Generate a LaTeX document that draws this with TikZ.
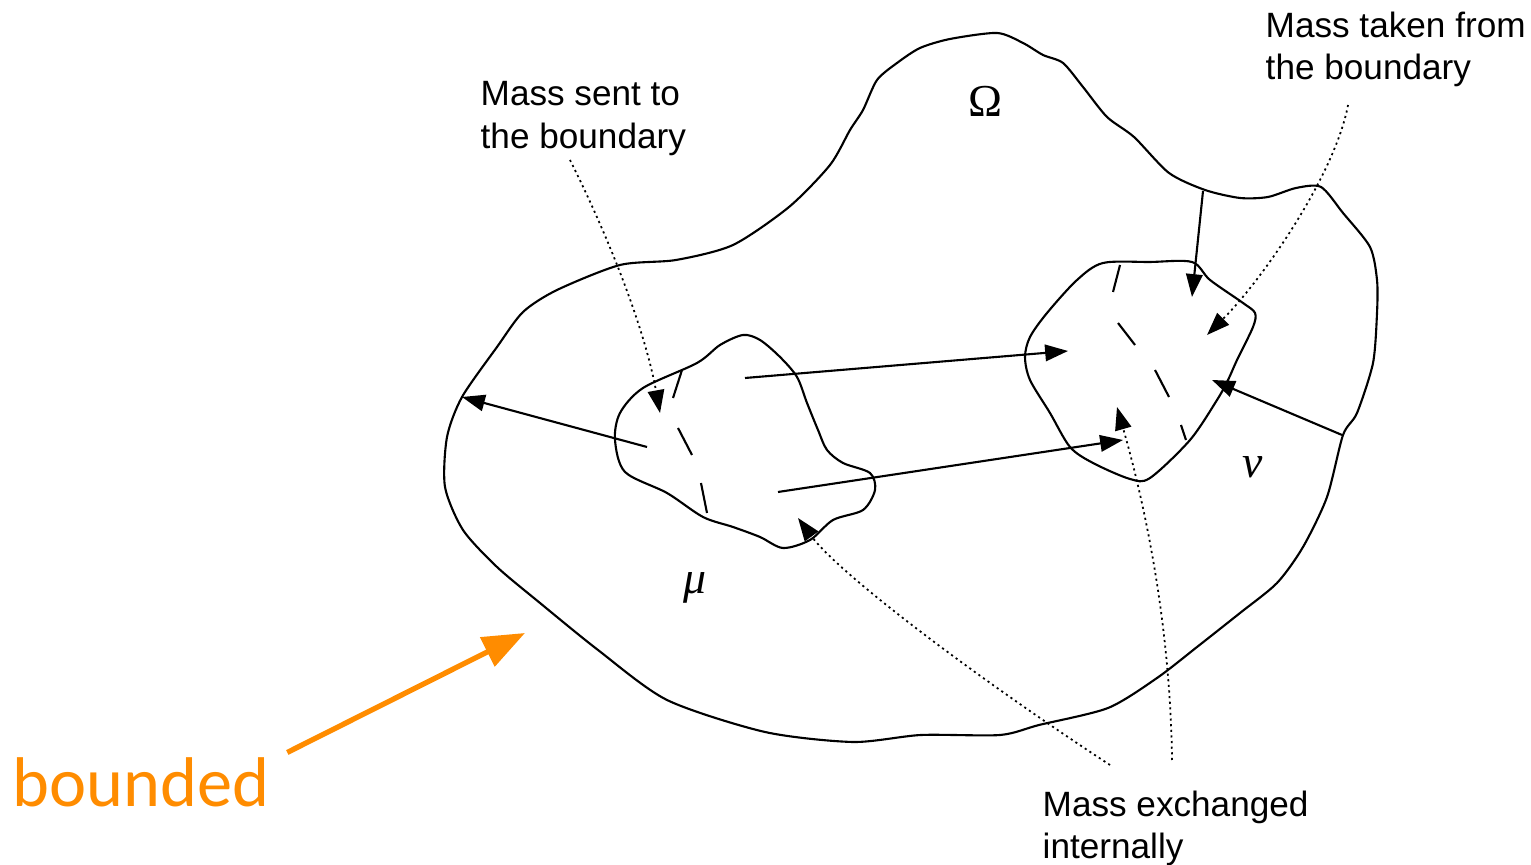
\documentclass[tikz,border=0pt]{standalone}
\usepackage{fontspec}
\setmainfont{Liberation Sans}
\newfontfamily\symfont{Liberation Serif}
\newfontfamily\notefont{Carlito}
\usetikzlibrary{arrows.meta}
\definecolor{notecolor}{RGB}{255,140,0}

\begin{document}
\begin{tikzpicture}[x=0.01cm,y=-0.01cm,
  region/.style={line width=0.6pt},
  flow/.style={line width=0.6pt,-{Triangle[length=6.5pt,width=4.7pt]}},
  pointer/.style={line width=0.5pt,dash pattern=on 0.6pt off 1pt,-{Triangle[length=6.5pt,width=4.7pt]}},
  stroke/.style={line width=0.6pt},
  caption/.style={font=\fontsize{10}{12}\selectfont,align=left,anchor=north west,inner sep=0pt},
  measure/.style={font=\symfont\fontsize{13}{13}\selectfont,inner sep=0pt}]
  \useasboundingbox (0,0) rectangle (1531,865);
  % the domain
  \draw[region] plot[smooth cycle,tension=0.45] coordinates {
    (462,397) (497,347) (523,312) (557,290) (620,265) (676,260) (733,245)
    (789,207) (830,165) (850,130) (863,110) (877,80) (897,63) (920,48)
    (950,39) (997,33) (1023,43) (1043,55) (1063,63) (1083,87) (1107,117)
    (1134,137) (1169,173) (1205,190) (1240,198) (1268,197) (1296,188)
    (1321,187) (1343,213) (1370,247) (1377,280) (1377,313) (1373,363)
    (1357,413) (1343,435) (1327,497) (1303,547) (1277,583) (1240,613)
    (1197,647) (1157,678) (1108,708) (1039,725) (1000,735) (921,735)
    (853,742) (765,732) (667,700) (598,650) (540,603) (497,567)
    (463,530) (445,487) (447,437)};
  % support of mu
  \draw[region] plot[smooth cycle,tension=0.5] coordinates {
    (743,335) (760,340) (780,357) (797,377) (807,403) (818,430) (827,450)
    (843,463) (870,473) (875,490) (863,510) (833,520) (810,540) (783,548)
    (760,537) (733,527) (703,517) (667,493) (625,472) (615,440) (620,413)
    (643,388) (697,363) (720,345)};
  % support of nu
  \draw[region] plot[smooth cycle,tension=0.5] coordinates {
    (1103,263) (1150,262) (1192,262) (1210,280) (1243,303) (1255,313)
    (1253,327) (1237,360) (1228,380) (1217,400) (1190,440) (1150,478)
    (1130,479) (1093,463) (1070,447) (1050,413) (1030,380) (1025,357)
    (1030,337) (1047,313) (1077,280)};
  % short strokes inside the supports
  \draw[stroke] (682,370) -- (673,398);
  \draw[stroke] (678,428) -- (692,455);
  \draw[stroke] (701,483) -- (707,513);
  \draw[stroke] (1120,265) -- (1113,292);
  \draw[stroke] (1118,323) -- (1135,345);
  \draw[stroke] (1155,370) -- (1169,397);
  \draw[stroke] (1181,425) -- (1186,440);

  \coordinate (muL) at (647,447);
  \coordinate (wallL) at (462,397);
  \coordinate (muT) at (745,378);
  \coordinate (nuT) at (1068,351);
  \coordinate (muB) at (778,492);
  \coordinate (nuB) at (1123,440);
  \coordinate (wallT) at (1203,191);
  \coordinate (nuN) at (1192,297);
  \coordinate (wallR) at (1342,435);
  \coordinate (nuE) at (1212,380);
  \draw[flow] (muL) -- (wallL);
  \draw[flow] (muT) -- (nuT);
  \draw[flow] (muB) -- (nuB);
  \draw[flow] (wallT) -- (nuN);
  \draw[flow] (wallR) -- (nuE);

  \node[measure] (omegalbl) at (985,101) {Ω};
  \node[measure,font=\symfont\itshape\fontsize{13}{13}\selectfont] (mulbl) at (695,588) {μ};
  \node[measure,font=\symfont\itshape\fontsize{13}{13}\selectfont] (nulbl) at (1253,467) {ν};

  \node[caption] (sentlbl) at (480,81) {Mass sent to\\the boundary};
  \node[caption] (takenlbl) at (1265,11) {Mass taken from\\the boundary};
  \node[caption] (exchlbl) at (1042,790) {Mass exchanged\\internally};

  \coordinate (sentS) at (570,160);
  \coordinate (sentE) at (660,413);
  \coordinate (takenS) at (1348,105);
  \coordinate (takenE) at (1207,335);
  \coordinate (exchA) at (1110,765);
  \coordinate (exchAE) at (798,518);
  \coordinate (exchB) at (1172,760);
  \coordinate (exchBE) at (1117,407);
  \draw[pointer] (sentS) .. controls (610,240) and (645,330) .. (sentE);
  \draw[pointer] (takenS) .. controls (1335,175) and (1262,280) .. (takenE);
  \draw[pointer] (exchA) .. controls (980,680) and (840,575) .. (exchAE);
  \draw[pointer] (exchB) .. controls (1170,600) and (1135,470) .. (exchBE);

  % remark
  \node[font=\notefont\fontsize{20}{20}\selectfont,text=notecolor,anchor=base west,inner sep=0pt] (boundedlbl) at (12,807) {bounded};
  \coordinate (noteE) at (525,633);
  \draw[line width=1.5pt,notecolor,-{Triangle[length=12pt,width=9pt]}] (boundedlbl.north east) ++(17,-5) -- (noteE);
\end{tikzpicture}
\end{document}
